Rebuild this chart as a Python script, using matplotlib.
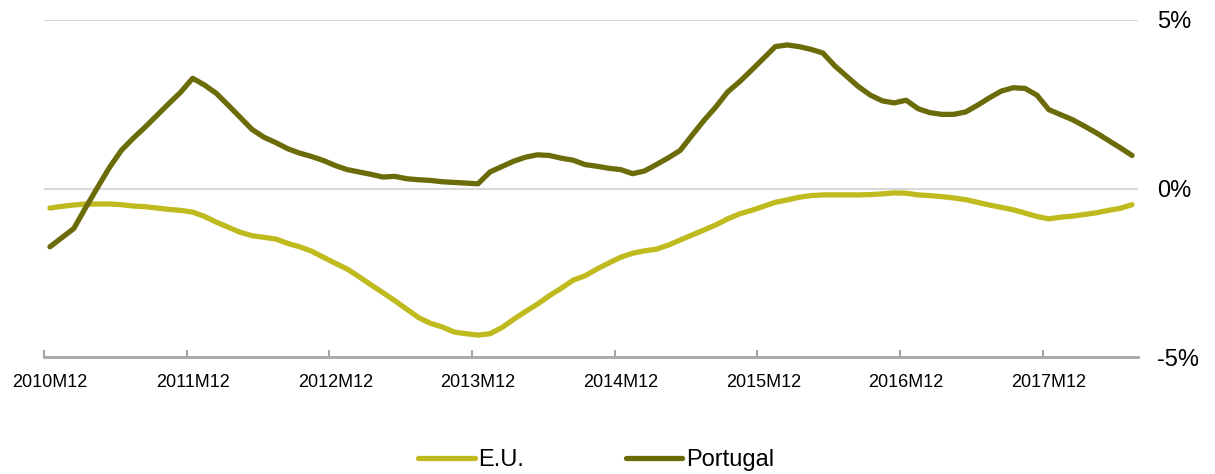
import matplotlib.pyplot as plt
from matplotlib.ticker import FixedLocator

plt.rcParams['font.family'] = ['Liberation Sans', 'DejaVu Sans']

# monthly values, 2010M12 .. 2018M07 (%)
eu = [-0.58, -0.53, -0.49, -0.46, -0.46, -0.46, -0.48, -0.52, -0.54, -0.58,
      -0.62, -0.65, -0.70, -0.83, -1.00, -1.15, -1.30, -1.40, -1.45, -1.50,
      -1.63, -1.73, -1.86, -2.04, -2.22, -2.39, -2.62, -2.86, -3.09, -3.33,
      -3.58, -3.83, -4.00, -4.11, -4.26, -4.31, -4.35, -4.31, -4.13, -3.88,
      -3.65, -3.43, -3.18, -2.96, -2.72, -2.59, -2.39, -2.21, -2.04, -1.92,
      -1.85, -1.80, -1.68, -1.53, -1.38, -1.23, -1.08, -0.90, -0.75, -0.65,
      -0.53, -0.41, -0.34, -0.26, -0.21, -0.19, -0.19, -0.19, -0.19, -0.18,
      -0.16, -0.13, -0.14, -0.19, -0.21, -0.24, -0.28, -0.33, -0.41, -0.49,
      -0.56, -0.63, -0.73, -0.83, -0.90, -0.85, -0.82, -0.77, -0.72, -0.65,
      -0.59, -0.48]
portugal = [-1.73, -1.46, -1.19, -0.57, 0.03, 0.62, 1.13, 1.49, 1.82, 2.17,
            2.52, 2.86, 3.27, 3.07, 2.82, 2.47, 2.11, 1.75, 1.52, 1.36,
            1.18, 1.05, 0.95, 0.83, 0.68, 0.56, 0.49, 0.42, 0.34, 0.36,
            0.29, 0.26, 0.24, 0.20, 0.18, 0.16, 0.14, 0.49, 0.65, 0.81,
            0.93, 1.00, 0.98, 0.90, 0.84, 0.71, 0.66, 0.60, 0.56, 0.44,
            0.52, 0.71, 0.91, 1.13, 1.58, 2.02, 2.42, 2.87, 3.17, 3.51,
            3.86, 4.21, 4.26, 4.21, 4.13, 4.02, 3.64, 3.33, 3.02, 2.77,
            2.60, 2.54, 2.62, 2.37, 2.25, 2.20, 2.20, 2.27, 2.47, 2.69,
            2.89, 2.99, 2.97, 2.77, 2.34, 2.19, 2.04, 1.85, 1.65, 1.43,
            1.21, 0.98]
year_labels = ['2010M12', '2011M12', '2012M12', '2013M12', '2014M12',
               '2015M12', '2016M12', '2017M12']
y_ticks = [-5, 0, 5]
y_labels = ['-5%', '0%', '5%']

x = list(range(len(eu)))

fig = plt.figure(figsize=(12.15, 4.74), dpi=100)
ax = fig.add_axes([44 / 1215, 1 - 357 / 474, (1138 - 44) / 1215, 337 / 474])

for v in [0, 5]:
    ax.axhline(v, color='#d9d9d9', lw=1.5, zorder=1)

ax.plot(x, eu, color='#bfba1e', lw=3.8, solid_capstyle='round', label='E.U.', zorder=3)
ax.plot(x, portugal, color='#6b6b0a', lw=3.8, solid_capstyle='round', label='Portugal', zorder=3)

ax.set_xlim(-0.5, len(eu) - 0.5)
ax.set_ylim(-5, 5)

for s in ['top', 'left', 'right']:
    ax.spines[s].set_visible(False)
ax.spines['bottom'].set_color('#a6a6a6')
ax.spines['bottom'].set_linewidth(2)

# tick marks between categories, labels under the December months
ax.xaxis.set_major_locator(FixedLocator([12 * k - 0.5 for k in range(len(year_labels))]))
ax.set_xticklabels([''] * len(year_labels))
ax.tick_params(axis='x', which='major', direction='in', length=5, width=1.5, color='#a6a6a6')
ax.xaxis.set_minor_locator(FixedLocator([12 * k for k in range(len(year_labels))]))
ax.set_xticklabels(year_labels, minor=True)
ax.tick_params(axis='x', which='minor', length=0, pad=12, labelsize=13)

ax.yaxis.tick_right()
ax.set_yticks(y_ticks)
ax.set_yticklabels(y_labels)
ax.tick_params(axis='y', length=0, pad=14, labelsize=17)

fig.legend(loc='center', bbox_to_anchor=(596 / 1215, 1 - 460 / 474), ncol=2,
           frameon=False, fontsize=17, handlelength=2.4, handletextpad=0.15,
           columnspacing=4.3)

fig.savefig('out.png', dpi=100)
